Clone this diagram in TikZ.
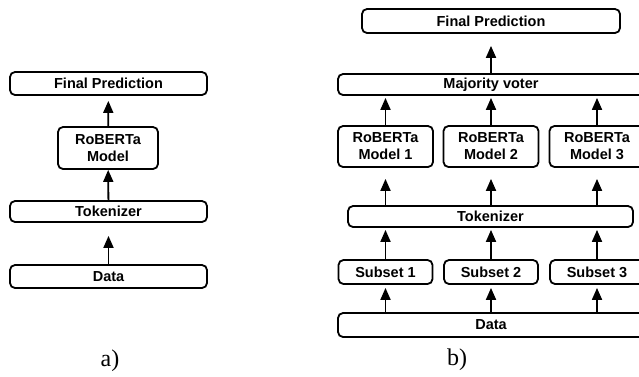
\documentclass[tikz,border=0pt]{standalone}
\usepackage{fontspec}
\setmainfont{Liberation Serif}
\newfontfamily\boxfont{Liberation Sans}
\usetikzlibrary{arrows.meta}

\begin{document}
\begin{tikzpicture}[x=1pt, y=-1pt, >={Triangle[length=12pt,width=10pt]},
  box/.style={draw, line width=1.8pt, rounded corners=5pt, inner sep=0pt, align=center,
    font=\boxfont\bfseries\fontsize{14.5}{17}\selectfont},
  link/.style={->, line width=1.8pt}]
% Frame
\clip (0,0) rectangle (639,376);

% Panel a
\node[box, minimum width=197pt, minimum height=23pt] (finalA) at (108.5,83.5) {Final Prediction};
\node[box, minimum width=100pt, minimum height=42pt] (modelA) at (108,148) {RoBERTa\\Model};
\node[box, minimum width=197pt, minimum height=21pt] (tokA) at (108.5,211.5) {Tokenizer};
\node[box, minimum width=197pt, minimum height=23pt] (dataA) at (108.5,276.5) {Data};

\draw[link, shorten >=13pt] (dataA) -- (tokA);
\draw[link] (tokA) -- (modelA);
\draw[link, shorten >=5pt] (modelA) -- (finalA);

\node[font=\fontsize{24}{28}\selectfont] (capA) at (110,361) {a)};

% Panel b
\node[box, minimum width=258pt, minimum height=24pt] (finalB) at (491,21) {Final Prediction};
\node[box, minimum width=306pt, minimum height=21pt] (voter) at (491,84.5) {Majority voter};
\foreach \i/\x in {1/385.5, 2/491, 3/597} {
  \node[box, minimum width=95pt, minimum height=41pt] (model\i) at (\x,146.5) {RoBERTa\\Model \i};
  \node[box, minimum width=94pt, minimum height=24pt] (subset\i) at (\x,272) {Subset \i};
}
\node[box, minimum width=285pt, minimum height=21pt] (tokB) at (490.5,216.5) {Tokenizer};
\node[box, minimum width=306pt, minimum height=24pt] (dataB) at (491,325) {Data};

\foreach \i in {1,2,3} {
  \draw[link, shorten >=3pt] (subset\i |- dataB.north) -- (subset\i.south);
  \draw[link, shorten >=2pt] (subset\i.north) -- (subset\i |- tokB.south);
  \draw[link, shorten >=11pt] (model\i |- tokB.north) -- (model\i.south);
  \draw[link, shorten >=2pt] (model\i.north) -- (model\i |- voter.south);
}
\draw[link, shorten >=12pt] (voter) -- (finalB);

\node[font=\fontsize{24}{28}\selectfont] (capB) at (457,360) {b)};
\end{tikzpicture}
\end{document}
